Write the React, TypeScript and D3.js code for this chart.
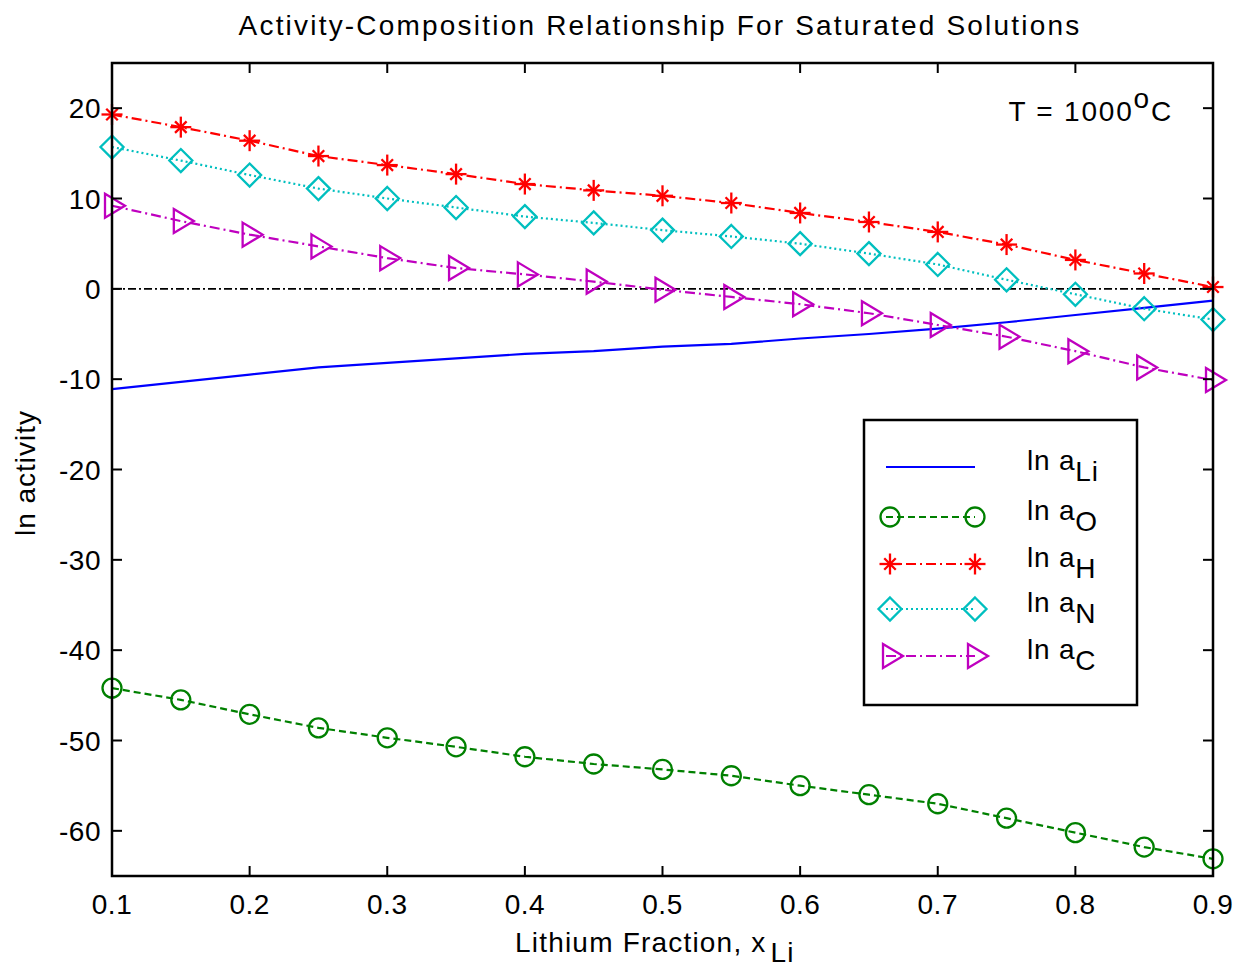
import React from "react";
import * as d3 from "d3";

const xVals = [0.1, 0.15, 0.2, 0.25, 0.3, 0.35, 0.4, 0.45, 0.5, 0.55, 0.6, 0.65, 0.7, 0.75, 0.8, 0.85, 0.9];
const lnLi = [-11.1, -10.3, -9.5, -8.7, -8.2, -7.7, -7.2, -6.9, -6.4, -6.1, -5.5, -5.0, -4.4, -3.7, -2.9, -2.1, -1.3];
const lnO = [-44.2, -45.5, -47.1, -48.6, -49.7, -50.7, -51.8, -52.6, -53.2, -53.9, -55.0, -56.0, -57.0, -58.6, -60.2, -61.8, -63.1];
const lnH = [19.3, 17.9, 16.4, 14.7, 13.7, 12.7, 11.6, 10.9, 10.3, 9.5, 8.4, 7.4, 6.3, 4.9, 3.2, 1.7, 0.2];
const lnN = [15.7, 14.2, 12.6, 11.1, 10.0, 9.0, 8.0, 7.3, 6.5, 5.8, 5.0, 3.9, 2.7, 1.0, -0.6, -2.2, -3.4];
const lnC = [9.2, 7.5, 6.0, 4.7, 3.4, 2.3, 1.6, 0.8, -0.1, -0.9, -1.7, -2.7, -4.0, -5.3, -6.9, -8.7, -10.1];

const xTicks = [0.1, 0.2, 0.3, 0.4, 0.5, 0.6, 0.7, 0.8, 0.9];
const yTicks = [-60, -50, -40, -30, -20, -10, 0, 10, 20];

const W = 1239, H = 967;
const L = 112, R = 1213, T = 63, B = 876;
const FONT = "'Liberation Sans', Arial, sans-serif";

type Marker = "none" | "circle" | "star" | "diamond" | "triangle";
const series: { name: string; sub: string; vals: number[]; color: string; dash: string; marker: Marker }[] = [
  { name: "ln a", sub: "Li", vals: lnLi, color: "#0000ff", dash: "", marker: "none" },
  { name: "ln a", sub: "O", vals: lnO, color: "#008000", dash: "7,4", marker: "circle" },
  { name: "ln a", sub: "H", vals: lnH, color: "#ff0000", dash: "10,4,2,4", marker: "star" },
  { name: "ln a", sub: "N", vals: lnN, color: "#00bfbf", dash: "2,3", marker: "diamond" },
  { name: "ln a", sub: "C", vals: lnC, color: "#bf00bf", dash: "10,4,2,4", marker: "triangle" },
];

function MarkerShape({ kind, x, y, color }: { kind: Marker; x: number; y: number; color: string }) {
  const sw = 2.3;
  if (kind === "circle") return <circle cx={x} cy={y} r={9.5} fill="none" stroke={color} strokeWidth={sw} />;
  if (kind === "diamond") {
    const s = 11.5;
    return <path d={`M${x},${y - s}L${x + s},${y}L${x},${y + s}L${x - s},${y}Z`} fill="none" stroke={color} strokeWidth={sw} />;
  }
  if (kind === "triangle") {
    return <path d={`M${x - 7},${y - 12}L${x + 13},${y}L${x - 7},${y + 12}Z`} fill="none" stroke={color} strokeWidth={sw} />;
  }
  if (kind === "star") {
    const s = 10.5;
    const d = s * 0.55;
    return (
      <g stroke={color} strokeWidth={sw}>
        <line x1={x - s} y1={y} x2={x + s} y2={y} />
        <line x1={x} y1={y - s} x2={x} y2={y + s} />
        <line x1={x - d} y1={y - d} x2={x + d} y2={y + d} />
        <line x1={x - d} y1={y + d} x2={x + d} y2={y - d} />
      </g>
    );
  }
  return null;
}

export default function App() {
  const x = d3.scaleLinear().domain([0.1, 0.9]).range([L, R]);
  const y = d3.scaleLinear().domain([-65, 25]).range([B, T]);
  const line = d3.line<number>().x((_, i) => x(xVals[i])).y((v) => y(v));

  const legX0 = 864, legY0 = 420, legW = 273, legH = 285;
  const rowY = [467, 517, 564, 609, 656];

  return (
    <svg width={W} height={H} style={{ display: "block", position: "absolute", left: 0, top: 0, background: "#fff" }} fontFamily={FONT}>
      <rect x={0} y={0} width={W} height={H} fill="#fff" />
      <text x={660} y={35} textAnchor="middle" fontSize={28} letterSpacing={2.2} fill="#000">Activity-Composition Relationship For Saturated Solutions</text>

      {/* zero line */}
      <line x1={L} x2={R} y1={y(0)} y2={y(0)} stroke="#000" strokeWidth={1.6} strokeDasharray="8,3,2,3" />

      {series.map((s) => (
        <g key={s.sub}>
          <path d={line(s.vals) || ""} fill="none" stroke={s.color} strokeWidth={2.2} strokeDasharray={s.dash} />
          {s.marker !== "none" && s.vals.map((v, i) => (
            <MarkerShape key={i} kind={s.marker} x={x(xVals[i])} y={y(v)} color={s.color} />
          ))}
        </g>
      ))}

      {/* axes box */}
      <rect x={L} y={T} width={R - L} height={B - T} fill="none" stroke="#000" strokeWidth={2.5} />
      {xTicks.map((t) => (
        <g key={t}>
          <line x1={x(t)} x2={x(t)} y1={B} y2={B - 10} stroke="#000" strokeWidth={2} />
          <line x1={x(t)} x2={x(t)} y1={T} y2={T + 10} stroke="#000" strokeWidth={2} />
          <text x={x(t)} y={914} textAnchor="middle" fontSize={28} letterSpacing={0.5} fill="#000">{t.toFixed(1)}</text>
        </g>
      ))}
      {yTicks.map((t) => (
        <g key={t}>
          <line x1={L} x2={L + 10} y1={y(t)} y2={y(t)} stroke="#000" strokeWidth={2} />
          <line x1={R} x2={R - 10} y1={y(t)} y2={y(t)} stroke="#000" strokeWidth={2} />
          <text x={101} y={y(t) + 10} textAnchor="end" fontSize={28} letterSpacing={0.5} fill="#000">{t}</text>
        </g>
      ))}

      <text x={515} y={952} textAnchor="start" fontSize={28} letterSpacing={1.2} fill="#000">
        Lithium Fraction, x<tspan dx={4} dy={10}>Li</tspan>
      </text>
      <text transform={`translate(35,473) rotate(-90)`} textAnchor="middle" fontSize={28} letterSpacing={1} fill="#000">ln activity</text>

      <text x={1173} y={121} textAnchor="end" fontSize={28} letterSpacing={1.8} fill="#000">
        T = 1000<tspan dy={-13}>o</tspan><tspan dy={13}>C</tspan>
      </text>

      {/* legend */}
      <rect x={legX0} y={legY0} width={legW} height={legH} fill="#fff" stroke="#000" strokeWidth={2.5} />
      {series.map((s, i) => (
        <g key={s.sub}>
          <line x1={886} x2={975} y1={rowY[i]} y2={rowY[i]} stroke={s.color} strokeWidth={2.2} strokeDasharray={s.dash} />
          {s.marker !== "none" && (
            <>
              <MarkerShape kind={s.marker} x={890} y={rowY[i]} color={s.color} />
              <MarkerShape kind={s.marker} x={975} y={rowY[i]} color={s.color} />
            </>
          )}
          <text x={1027} y={rowY[i] + 3} fontSize={28} letterSpacing={0.8} fill="#000">
            {s.name}<tspan dy={11}>{s.sub}</tspan>
          </text>
        </g>
      ))}
    </svg>
  );
}
